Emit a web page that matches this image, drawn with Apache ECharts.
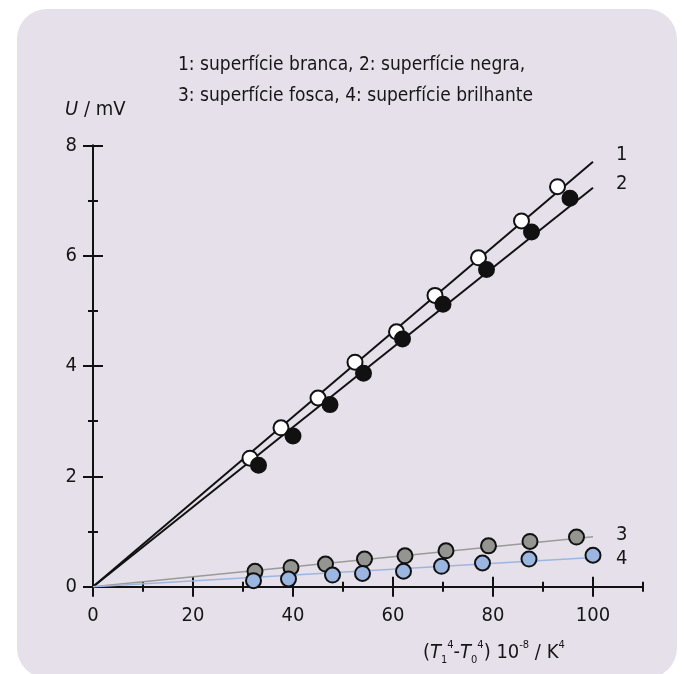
<!DOCTYPE html>
<html>
<head>
<meta charset="utf-8">
<script src="https://cdn.jsdelivr.net/npm/echarts@6.0.0/dist/echarts.min.js"></script>
<style>
html,body{margin:0;padding:0;background:#ffffff;}
#chart{width:684px;height:674px;}
</style>
</head>
<body>
<div id="chart"></div>
<script>
// ---- data ----
const whiteX = [31.4, 37.6, 45.0, 52.4, 60.7, 68.4, 77.1, 85.7, 92.9];
const whiteY = [2.33, 2.88, 3.42, 4.07, 4.62, 5.28, 5.96, 6.63, 7.25];
const blackX = [33.1, 40.0, 47.4, 54.1, 61.9, 70.0, 78.7, 87.7, 95.4];
const blackY = [2.20, 2.73, 3.30, 3.87, 4.49, 5.12, 5.75, 6.43, 7.04];
const mattX = [32.4, 39.6, 46.5, 54.3, 62.4, 70.6, 79.1, 87.4, 96.7];
const mattY = [0.28, 0.35, 0.41, 0.50, 0.56, 0.65, 0.74, 0.82, 0.90];
const shinyX = [32.1, 39.1, 47.9, 53.9, 62.1, 69.7, 77.9, 87.2, 100.0];
const shinyY = [0.11, 0.14, 0.21, 0.24, 0.28, 0.37, 0.43, 0.50, 0.57];
// fit lines: start and end points (x, y)
const lineNames = ['1', '2', '3', '4'];
const lineStartX = [0, 0, 0, 0];
const lineStartY = [0, 0, 0, 0];
const lineEndX = [100, 100, 100, 100];
const lineEndY = [7.70, 7.23, 0.906, 0.53];
// ticks
const xMajorTicks = [0, 20, 40, 60, 80, 100];
const xMinorTicks = [10, 30, 50, 70, 90, 110];
const yMajorTicks = [0, 2, 4, 6, 8];
const yMinorTicks = [1, 3, 5, 7];
const legendLines = ['1: superfície branca, 2: superfície negra,', '3: superfície fosca, 4: superfície brilhante'];

const zip = (a, b) => a.map((v, i) => [v, b[i]]);
const FONT = '"DejaVu Sans Condensed", "Liberation Sans", sans-serif';
const TXT = '#161616';

const chart = echarts.init(document.getElementById('chart'), null, {renderer: 'canvas'});

function xAx(ticks, len, inside, showLine, labels) {
  return {
    type: 'value', min: 0, max: 110, gridIndex: 0, position: 'bottom',
    axisLine: {show: showLine, onZero: false, lineStyle: {color: '#111', width: 2}},
    axisTick: {show: true, inside: inside, length: len, customValues: ticks, lineStyle: {color: '#111', width: 2}},
    axisLabel: labels ? {show: true, customValues: ticks, margin: 19, fontSize: 20, fontFamily: FONT, color: TXT} : {show: false},
    splitLine: {show: false}
  };
}
function yAx(ticks, len, inside, showLine, labels) {
  return {
    type: 'value', min: 0, max: 8, gridIndex: 0, position: 'left',
    axisLine: {show: showLine, onZero: false, lineStyle: {color: '#111', width: 2}},
    axisTick: {show: true, inside: inside, length: len, customValues: ticks, lineStyle: {color: '#111', width: 2}},
    axisLabel: labels ? {show: true, customValues: ticks, margin: 16, fontSize: 20, fontFamily: FONT, color: TXT} : {show: false},
    splitLine: {show: false}
  };
}

const lineColors = ['#111111', '#111111', '#9a9a98', '#9db6e0'];
const lineWidths = [2, 2, 1.6, 1.6];
const labelOffsets = [[0, -7], [0, -4], [0, -2], [0, 1]];

const lineSeries = lineNames.map((n, i) => ({
  type: 'line', name: n, xAxisIndex: 0, yAxisIndex: 0,
  data: [[lineStartX[i], lineStartY[i]], [lineEndX[i], lineEndY[i]]],
  symbol: 'none', silent: true, z: 2,
  lineStyle: {color: lineColors[i], width: lineWidths[i]},
  endLabel: {show: true, formatter: n, distance: 23, offset: labelOffsets[i], fontSize: 20, fontFamily: FONT, color: TXT}
}));

function pts(x, y, fill) {
  return {
    type: 'scatter', xAxisIndex: 0, yAxisIndex: 0, data: zip(x, y), z: 3,
    symbol: 'circle', symbolSize: 15,
    itemStyle: {color: fill, borderColor: '#111', borderWidth: 2, opacity: 1}
  };
}

chart.setOption({
  animation: false,
  backgroundColor: '#ffffff',
  graphic: [
    {type: 'rect', z: -10, shape: {x: 17, y: 9, width: 660, height: 669, r: 30}, style: {fill: '#e5e0ea'}},
    {type: 'text', x: 178, y: 65, style: {text: legendLines[0], font: '19px ' + FONT, fill: TXT, verticalAlign: 'middle'}},
    {type: 'text', x: 178, y: 96, style: {text: legendLines[1], font: '19px ' + FONT, fill: TXT, verticalAlign: 'middle'}},
    {type: 'text', x: 65, y: 110, style: {
      text: '{i|U} / mV', verticalAlign: 'middle', fill: TXT, fontSize: 20, fontFamily: FONT,
      rich: {i: {fontStyle: 'italic', fontSize: 20, fontFamily: FONT, fill: TXT}}
    }},
    {type: 'text', x: 423, y: 653, style: {
      text: '({i|T}{sub|1}{sup|4}-{i|T}{sub|0}{sup|4}) 10{sup|-8} / K{sup|4}',
      verticalAlign: 'middle', fill: TXT, fontSize: 20, fontFamily: FONT, lineHeight: 26,
      rich: {
        i: {fontStyle: 'italic', fontSize: 20, fontFamily: FONT, fill: TXT, lineHeight: 26},
        sup: {fontSize: 11, fontFamily: FONT, fill: TXT, verticalAlign: 'top', lineHeight: 12},
        sub: {fontSize: 11, fontFamily: FONT, fill: TXT, verticalAlign: 'bottom', lineHeight: 12}
      }
    }}
  ],
  grid: {left: 93, top: 145.3, width: 550, height: 441.4, containLabel: false},
  xAxis: [
    xAx(xMajorTicks, 10, false, true, true),
    xAx(xMajorTicks, 10, true, false, false),
    xAx(xMinorTicks, 5, false, false, false),
    xAx(xMinorTicks, 5, true, false, false)
  ],
  yAxis: [
    yAx(yMajorTicks, 10, false, true, true),
    yAx(yMajorTicks, 10, true, false, false),
    yAx(yMinorTicks, 5, false, false, false),
    yAx(yMinorTicks, 5, true, false, false)
  ],
  series: [
    ...lineSeries,
    pts(whiteX, whiteY, '#ffffff'),
    pts(blackX, blackY, '#111111'),
    pts(mattX, mattY, '#949491'),
    pts(shinyX, shinyY, '#9cb6e2')
  ]
});
</script>
</body>
</html>
